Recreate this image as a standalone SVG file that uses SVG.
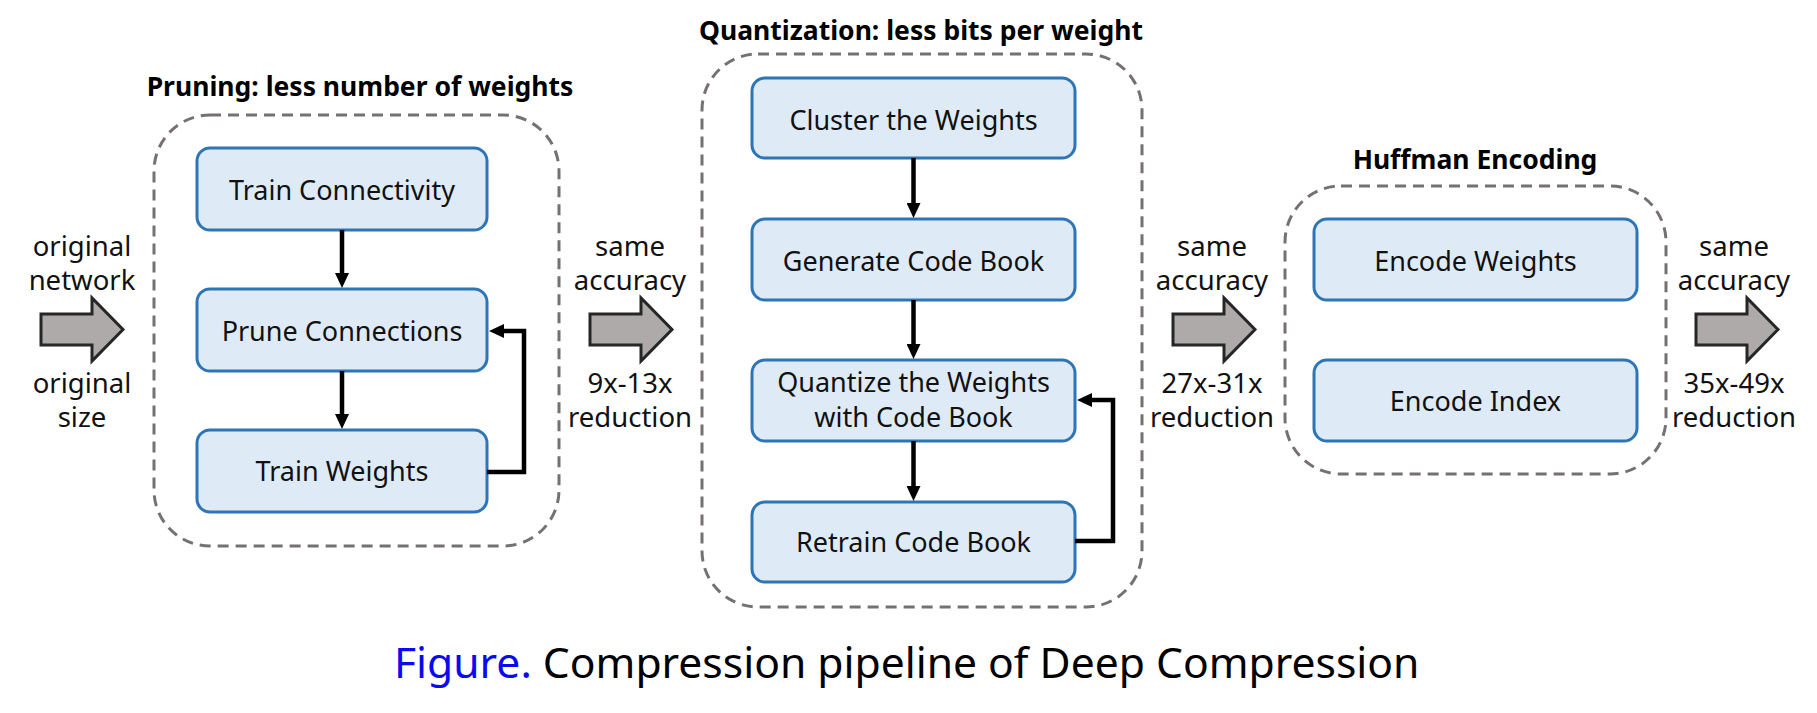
<svg xmlns="http://www.w3.org/2000/svg" width="1817" height="713" viewBox="0 0 1817 713">
<style>
  .bg{fill:#ffffff}
  .grp{fill:none;stroke:#767171;stroke-width:3;stroke-dasharray:11 7}
  .node rect{fill:#DEEBF7;stroke:#2E75B6;stroke-width:3}
  .lbl{font-family:"Noto Sans",sans-serif;font-size:27px;fill:#111;text-anchor:middle}
  .ttl{font-family:"Noto Sans",sans-serif;font-size:26.5px;font-weight:bold;fill:#000;text-anchor:middle}
  .side{font-family:"Noto Sans",sans-serif;font-size:27.5px;fill:#111;text-anchor:middle}
  .edge{fill:none;stroke:#000;stroke-width:4.5}
  .fat{fill:#AEAAAA;stroke:#262626;stroke-width:3;stroke-linejoin:miter}
  .cap{font-family:"Noto Sans",sans-serif;font-size:42.6px;fill:#000}
</style>
<defs>
  <marker id="ah" markerUnits="userSpaceOnUse" markerWidth="16" markerHeight="14" refX="3" refY="7" orient="auto">
    <path d="M0,0 L15,7 L0,14 z" fill="#000"/>
  </marker>
  <path id="fatarrow" d="M0,15 L51,15 L51,-1 L82,30.5 L51,62 L51,46 L0,46 z"/>
</defs>
<rect class="bg" x="0" y="0" width="1817" height="713"/>

<!-- group containers -->
<g id="pruning">
  <rect class="grp" x="154" y="115" width="405" height="431" rx="56"/>
  <text class="ttl" x="360" y="96">Pruning: less number of weights</text>
</g>
<g id="quantization">
  <rect class="grp" x="702" y="54" width="440" height="553" rx="56"/>
  <text class="ttl" x="921" y="40">Quantization: less bits per weight</text>
</g>
<g id="huffman">
  <rect class="grp" x="1285" y="186" width="381" height="288" rx="56"/>
  <text class="ttl" x="1475" y="169">Huffman Encoding</text>
</g>

<!-- nodes -->
<g id="train-connectivity" class="node">
  <rect x="197" y="148" width="290" height="82" rx="13"/>
  <text class="lbl" x="342" y="200">Train Connectivity</text>
</g>
<g id="prune-connections" class="node">
  <rect x="197" y="289" width="290" height="82" rx="13"/>
  <text class="lbl" x="342" y="341">Prune Connections</text>
</g>
<g id="train-weights" class="node">
  <rect x="197" y="430" width="290" height="82" rx="13"/>
  <text class="lbl" x="342" y="481">Train Weights</text>
</g>
<g id="cluster-weights" class="node">
  <rect x="752" y="78" width="323" height="80" rx="13"/>
  <text class="lbl" x="913.5" y="130">Cluster the Weights</text>
</g>
<g id="generate-code-book" class="node">
  <rect x="752" y="219" width="323" height="81" rx="13"/>
  <text class="lbl" x="913.5" y="271">Generate Code Book</text>
</g>
<g id="quantize-weights" class="node">
  <rect x="752" y="360" width="323" height="81" rx="13"/>
  <text class="lbl" x="913.5" y="392">Quantize the Weights</text>
  <text class="lbl" x="913.5" y="427">with Code Book</text>
</g>
<g id="retrain-code-book" class="node">
  <rect x="752" y="502" width="323" height="80" rx="13"/>
  <text class="lbl" x="913.5" y="552">Retrain Code Book</text>
</g>
<g id="encode-weights" class="node">
  <rect x="1314" y="219" width="323" height="81" rx="13"/>
  <text class="lbl" x="1475.5" y="271">Encode Weights</text>
</g>
<g id="encode-index" class="node">
  <rect x="1314" y="360" width="323" height="81" rx="13"/>
  <text class="lbl" x="1475.5" y="411">Encode Index</text>
</g>

<!-- connectors -->
<g id="connectors">
  <line class="edge" x1="342" y1="230" x2="342" y2="276" marker-end="url(#ah)"/>
  <line class="edge" x1="342" y1="371" x2="342" y2="417" marker-end="url(#ah)"/>
  <polyline class="edge" points="487,472 524,472 524,331 501,331" marker-end="url(#ah)"/>
  <line class="edge" x1="913.5" y1="158" x2="913.5" y2="206" marker-end="url(#ah)"/>
  <line class="edge" x1="913.5" y1="300" x2="913.5" y2="347" marker-end="url(#ah)"/>
  <line class="edge" x1="913.5" y1="441" x2="913.5" y2="489" marker-end="url(#ah)"/>
  <polyline class="edge" points="1075,541 1113,541 1113,400 1089,400" marker-end="url(#ah)"/>
</g>

<!-- pipeline fat arrows and side labels -->
<g id="stage-arrows">
  <use href="#fatarrow" class="fat" x="41" y="299"/>
  <use href="#fatarrow" class="fat" x="590" y="299"/>
  <use href="#fatarrow" class="fat" x="1173" y="299"/>
  <use href="#fatarrow" class="fat" x="1696" y="299"/>
</g>
<g id="side-labels">
  <text class="side" x="82" y="256">original</text>
  <text class="side" x="82" y="290">network</text>
  <text class="side" x="82" y="393">original</text>
  <text class="side" x="82" y="427">size</text>
  <text class="side" x="630" y="256">same</text>
  <text class="side" x="630" y="290">accuracy</text>
  <text class="side" x="630" y="393">9x-13x</text>
  <text class="side" x="630" y="427">reduction</text>
  <text class="side" x="1212" y="256">same</text>
  <text class="side" x="1212" y="290">accuracy</text>
  <text class="side" x="1212" y="393">27x-31x</text>
  <text class="side" x="1212" y="427">reduction</text>
  <text class="side" x="1734" y="256">same</text>
  <text class="side" x="1734" y="290">accuracy</text>
  <text class="side" x="1734" y="393">35x-49x</text>
  <text class="side" x="1734" y="427">reduction</text>
</g>

<text class="cap" x="394" y="678"><tspan fill="#0A0AF0">Figure.</tspan> Compression pipeline of Deep Compression</text>
</svg>
